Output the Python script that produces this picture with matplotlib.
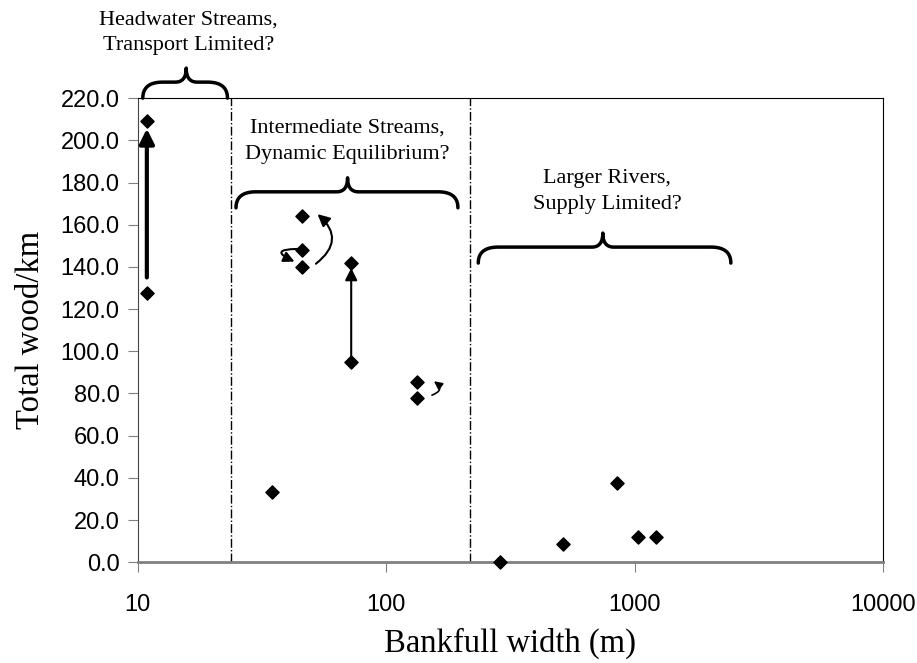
import numpy as np
import matplotlib
matplotlib.use("Agg")
import matplotlib.pyplot as plt

# bankfull width (m) and total wood/km
width = [10.9, 10.9, 34.7, 45.8, 45.8, 45.8, 72.4, 72.4, 133.7, 133.7,
         288, 515, 849, 1033, 1216]
wood = [209.0, 127.5, 33.5, 164.0, 148.0, 140.0, 142.0, 95.0, 85.5, 78.0,
        0.0, 8.5, 37.5, 12.0, 12.0]

yticks = np.arange(0, 221, 20)
xticks = [10, 100, 1000, 10000]

# class boundaries (dash-dot lines)
bounds = [23.7, 217]

# region labels: text, x centre, y centre
labels = ["Headwater Streams,\nTransport Limited?",
          "Intermediate Streams,\nDynamic Equilibrium?",
          "Larger Rivers,\nSupply Limited?"]
label_x = [16.0, 70, 777]
label_y = [251, 199.5, 175.5]

# braces: left x, right x, tip x, y of the ends
brace_x0 = [10.5, 24.9, 235]
brace_x1 = [23.0, 194.6, 2440]
brace_xm = [15.7, 70, 745]
brace_y = [220, 168, 141.8]

# arrows: start, end
arr_start = [(10.9, 135), (72.4, 98), (52.2, 141.5), (43.9, 148.5), (153, 79.2)]
arr_end = [(10.9, 205.5), (72.4, 139.5), (53.0, 165), (42.8, 142.5), (155.9, 85.8)]
arr_rad = [0, 0, 0.6, 2.2, 0.9]
arr_lw = [3, 1.5, 1.5, 1.5, 1.2]
arr_head = [22, 18, 18, 16, 12]

plt.rcParams['font.family'] = ['Liberation Serif', 'DejaVu Serif']

fig = plt.figure(figsize=(9.17, 6.63), dpi=100)
ax = fig.add_axes([0.150, 0.152, 0.813, 0.700])
ax.set_xscale('log')
ax.set_xlim(10, 10000)
ax.set_ylim(0, 220)

ax.scatter(width, wood, marker='D', s=45, color='black', zorder=5, clip_on=False)

for b in bounds:
    ax.axvline(b, color='black', lw=1, ls='-.')

ax.set_xticks(xticks)
ax.set_xticklabels([str(t) for t in xticks])
ax.minorticks_off()
ax.set_yticks(yticks)
ax.set_yticklabels(['%.1f' % t for t in yticks])
for lab in ax.get_xticklabels() + ax.get_yticklabels():
    lab.set_family('Liberation Sans')
    lab.set_fontsize(17)
ax.tick_params(axis='x', direction='out', length=7, color='gray', pad=16)
ax.tick_params(axis='y', direction='out', length=7, color='gray', pad=6)
ax.spines['bottom'].set_color('gray')
ax.spines['bottom'].set_linewidth(2)
ax.spines['left'].set_color('#444444')

ax.set_xlabel('Bankfull width (m)', fontsize=23.5, labelpad=8)
ax.set_ylabel('Total wood/km', fontsize=23.5, labelpad=10)

for t, x, y in zip(labels, label_x, label_y):
    ax.text(x, y, t, ha='center', va='center', fontsize=16,
            linespacing=1.5, clip_on=False)


def bez(p0, p1, p2, n=20):
    t = np.linspace(0, 1, n)[:, None]
    return (1 - t) ** 2 * p0 + 2 * (1 - t) * t * p1 + t ** 2 * p2


# draw braces in pixel space so corners are round
fig.canvas.draw()
tr = ax.transData
for x0, x1, xm, yb in zip(brace_x0, brace_x1, brace_xm, brace_y):
    (px0, py), = tr.transform([(x0, yb)])
    (px1, _), = tr.transform([(x1, yb)])
    (pxm, _), = tr.transform([(xm, yb)])
    h, w, h2, w2 = 16, 20, 14, 11
    pts = [bez(np.array([px0, py]), np.array([px0, py + h]), np.array([px0 + w, py + h])),
           bez(np.array([pxm - w2, py + h]), np.array([pxm, py + h]), np.array([pxm, py + h + h2])),
           bez(np.array([pxm, py + h + h2]), np.array([pxm, py + h]), np.array([pxm + w2, py + h])),
           bez(np.array([px1 - w, py + h]), np.array([px1, py + h]), np.array([px1, py]))]
    pts = np.vstack(pts)
    d = tr.inverted().transform(pts)
    ax.plot(d[:, 0], d[:, 1], color='black', lw=2.5, clip_on=False,
            solid_capstyle='round')

for s, e, r, lw, hs in zip(arr_start, arr_end, arr_rad, arr_lw, arr_head):
    ax.annotate('', xy=e, xytext=s,
                arrowprops=dict(arrowstyle='-|>', color='black', lw=lw,
                                mutation_scale=hs, shrinkA=0, shrinkB=0,
                                connectionstyle='arc3,rad=%s' % r))

fig.savefig('out.png', dpi=100)
